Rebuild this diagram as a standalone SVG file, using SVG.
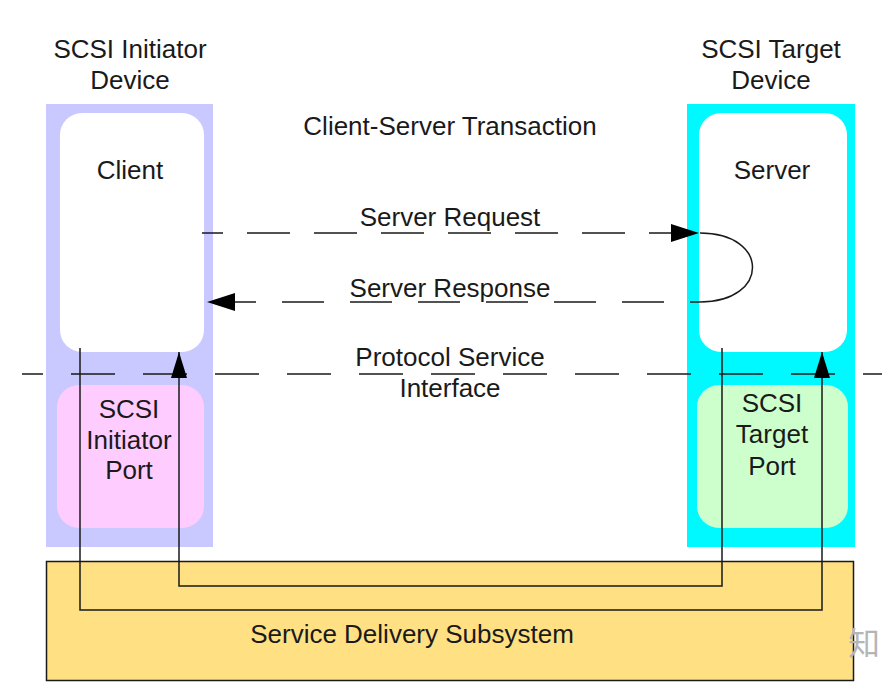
<svg xmlns="http://www.w3.org/2000/svg" width="882" height="697" viewBox="0 0 882 697">
<style>
text{font-family:"Liberation Sans",Arial,sans-serif;font-size:26px;fill:#1a1a1a;text-anchor:middle}
.ln{fill:none;stroke:#1a1a1a;stroke-width:1.5}
.dash{fill:none;stroke:#1a1a1a;stroke-width:1.5}
</style>
<defs>
<marker id="ah" markerUnits="userSpaceOnUse" markerWidth="28" markerHeight="18" viewBox="0 0 28 18" refX="28" refY="9" orient="auto">
<path d="M0,0 L28,9 L0,18 Z" fill="#000"/>
</marker>
<marker id="av" markerUnits="userSpaceOnUse" markerWidth="26" markerHeight="16" viewBox="0 0 26 16" refX="26" refY="8" orient="auto">
<path d="M0,0 L26,8 L0,16 Z" fill="#000"/>
</marker>
</defs>
<rect width="882" height="697" fill="#fff"/>
<g id="initiator-device">
<rect x="46" y="104" width="167" height="443" fill="#C9C9FF"/>
<text x="130" y="58">SCSI Initiator</text>
<text x="130" y="89">Device</text>
</g>
<g id="target-device">
<rect x="687" y="104" width="168" height="443" fill="#00F8FF"/>
<text x="771" y="58">SCSI Target</text>
<text x="771" y="89">Device</text>
</g>
<g id="client">
<rect x="60" y="113" width="144" height="239" rx="22" fill="#fff"/>
<text x="130" y="179">Client</text>
</g>
<g id="server">
<rect x="699" y="113" width="148" height="239" rx="22" fill="#fff"/>
<text x="772" y="179">Server</text>
</g>
<g id="initiator-port">
<rect x="57" y="385" width="147" height="143" rx="22" fill="#FFCCFF"/>
<text x="129" y="418">SCSI</text>
<text x="129" y="449">Initiator</text>
<text x="129" y="479">Port</text>
</g>
<g id="target-port">
<rect x="697" y="385" width="151" height="143" rx="22" fill="#CCFFCC"/>
<text x="772" y="412">SCSI</text>
<text x="772" y="443">Target</text>
<text x="772" y="475">Port</text>
</g>
<g id="service-delivery-subsystem">
<rect x="46.5" y="561.5" width="807" height="119" fill="#FFE184" stroke="#1a1a1a" stroke-width="1.5"/>
<text x="412" y="643">Service Delivery Subsystem</text>
</g>
<g id="labels">
<text x="450" y="135">Client-Server Transaction</text>
<text x="450" y="226">Server Request</text>
<text x="450" y="297">Server Response</text>
<text x="450" y="366">Protocol Service</text>
<text x="450" y="397">Interface</text>
</g>
<g id="connectors">
<line class="dash" x1="22" y1="374" x2="882" y2="374" stroke-dasharray="44 28" stroke-dashoffset="23"/>
<path class="dash" d="M202,233 H699" stroke-dasharray="43 24" stroke-dashoffset="22" marker-end="url(#ah)"/>
<path class="ln" d="M700,233 C770,233 770,302 700,302" stroke="#333"/>
<path class="dash" d="M700,302 H207" stroke-dasharray="42 26" stroke-dashoffset="32" marker-end="url(#ah)"/>
<path class="ln" d="M80,348 V610 H822 V352" marker-end="url(#av)"/>
<path class="ln" d="M722,348 V586 H179 V352" marker-end="url(#av)"/>
</g>
<text x="848" y="655" style="font-family:'Noto Sans CJK SC',sans-serif;font-size:32px;fill:#b5b5b5;text-anchor:start">知</text>
</svg>
